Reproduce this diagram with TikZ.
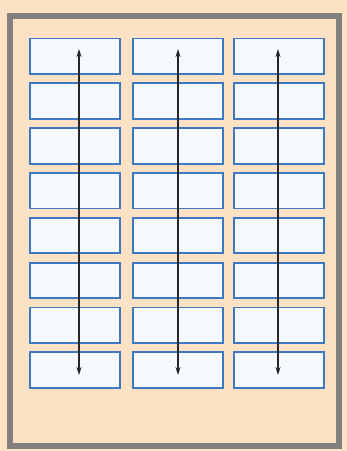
\documentclass[tikz,border=0pt]{standalone}
\usetikzlibrary{arrows.meta}
\definecolor{peach}{HTML}{FCE1C4}
\definecolor{framegray}{HTML}{858080}
\definecolor{boxblue}{HTML}{3D78C0}
\definecolor{boxfill}{HTML}{F6F9FD}
\begin{document}
\begin{tikzpicture}[x=1pt,y=-1pt,
  cell/.style={draw=boxblue,fill=boxfill,line width=1.8pt,minimum width=90pt,minimum height=35.5pt,inner sep=0pt,anchor=north west},
  dblarrow/.style={line width=1.3pt,black!85,{Stealth[length=8pt,width=5pt]}-{Stealth[length=8pt,width=5pt]}}]
\fill[peach] (0,0) rectangle (347,451);
\useasboundingbox (0,0) rectangle (347,451);
\draw[framegray,line width=6pt] (10,16) rectangle (339,446);
\foreach \c/\x in {1/29,2/132,3/233}{
  \foreach \r in {1,...,8}{
    \node[cell] (b\c\r) at (\x,{37.5+44.85*(\r-1)}) {};
  }
}
\foreach \c/\x in {1/79,2/178,3/278}{
  \coordinate (t\c) at (\x,49);
  \coordinate (e\c) at (\x,375);
  \draw[dblarrow] (t\c) -- (e\c);
}
\end{tikzpicture}
\end{document}
